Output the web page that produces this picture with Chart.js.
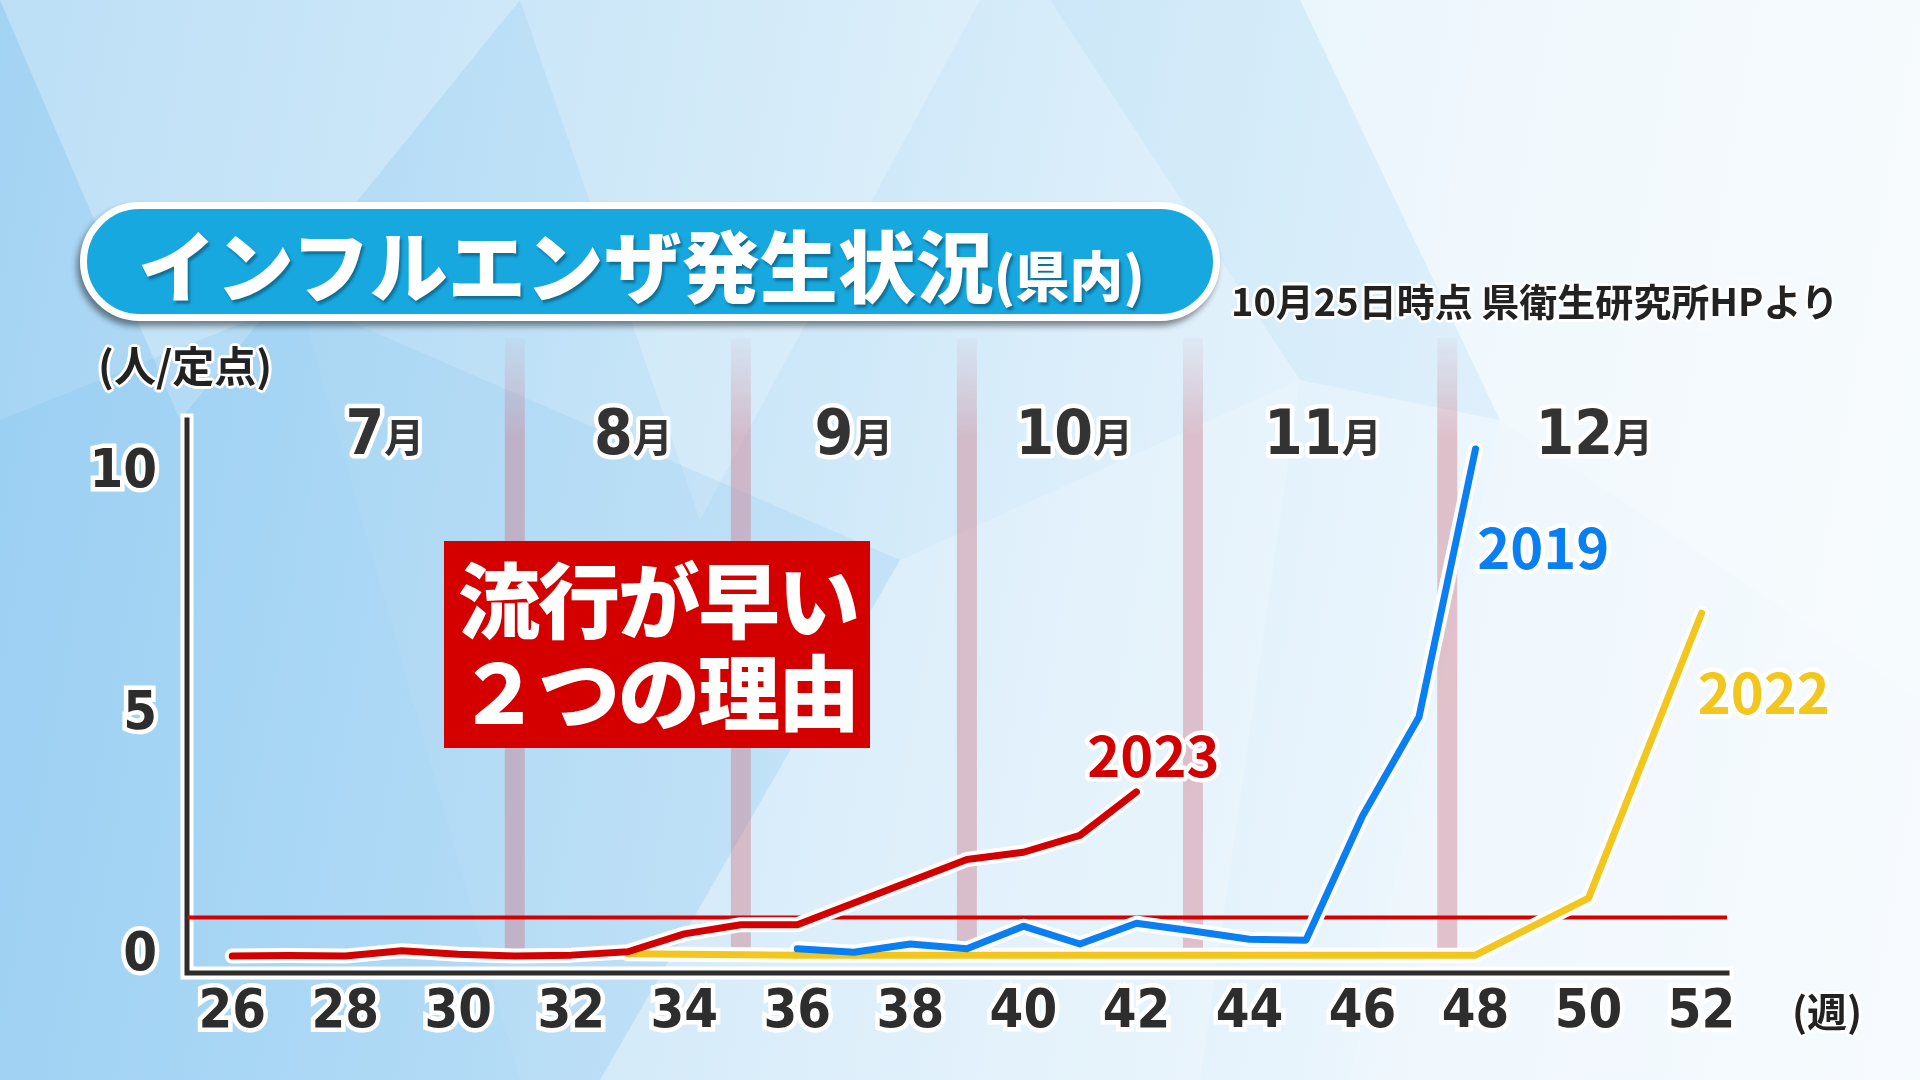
<!DOCTYPE html>
<html lang="ja">
<head>
<meta charset="utf-8">
<title>インフルエンザ発生状況（県内）</title>
<script src="https://cdn.jsdelivr.net/npm/chart.js@4.4.1/dist/chart.umd.min.js"></script>
<style>
  html, body { margin: 0; padding: 0; }
  body {
    width: 1920px; height: 1080px; overflow: hidden; position: relative;
    font-family: "Noto Sans CJK JP", "Noto Sans", sans-serif;
    background: linear-gradient(100deg, #a3d3f3 0%, #bfe1f7 28%, #d9edfa 52%, #ecf6fd 75%, #f5fafe 100%);
  }
  .facet { position: absolute; left: 0; top: 0; width: 1920px; height: 1080px; }
  .f1 { background: rgba(255,255,255,0.28); clip-path: polygon(0 0, 520px 0, 180px 420px); }
  .f2 { background: rgba(120,190,240,0.22); clip-path: polygon(0 420px, 300px 300px, 520px 1080px, 0 1080px); }
  .f3 { background: rgba(255,255,255,0.22); clip-path: polygon(520px 0, 980px 0, 700px 520px); }
  .f4 { background: rgba(130,195,240,0.18); clip-path: polygon(300px 300px, 900px 560px, 600px 1080px, 520px 1080px); }
  .f5 { background: rgba(255,255,255,0.20); clip-path: polygon(900px 560px, 1300px 380px, 1200px 1080px, 600px 1080px); }
  .f6 { background: rgba(255,255,255,0.30); clip-path: polygon(1300px 0, 1920px 0, 1920px 700px, 1500px 420px); }
  .f7 { background: rgba(150,205,242,0.15); clip-path: polygon(1050px 0, 1300px 0, 1500px 420px, 1300px 380px); }
  .f8 { background: rgba(255,255,255,0.18); clip-path: polygon(1500px 420px, 1920px 700px, 1920px 1080px, 1350px 1080px); }

  #chart { position: absolute; left: 0; top: 0; }

  .title-pill {
    position: absolute; left: 80px; top: 202px; width: 1140px; height: 119px;
    box-sizing: border-box; border: 7px solid #fff; border-radius: 60px;
    background: #17a8e0; box-shadow: -3px 5px 6px rgba(0,0,0,0.45);
  }
  .title-text {
    position: absolute; left: 138px; top: 218px; height: 90px; line-height: 90px;
    color: #fff; font-weight: 900; font-size: 78px; white-space: nowrap;
    text-shadow: 2px 3px 3px rgba(0,0,0,0.35);
  }
  .title-text small { font-size: 54px; font-weight: 900; }

  .halo {
    color: #222; font-weight: 700; white-space: nowrap; position: absolute;
    text-shadow: 3px 0 0 #fff, -3px 0 0 #fff, 0 3px 0 #fff, 0 -3px 0 #fff,
      2px 2px 0 #fff, -2px -2px 0 #fff, 2px -2px 0 #fff, -2px 2px 0 #fff;
  }
  .source { left: 1231px; top: 278px; font-size: 38px; line-height: 44px; }
  .unit-y { left: 98px; top: 340px; font-size: 42px; line-height: 48px; }
  .unit-x { left: 1792px; top: 986px; font-size: 40px; line-height: 48px; }

  .callout {
    position: absolute; left: 444px; top: 541px; width: 426px; height: 207px;
    background: #d40000; color: #fff; font-weight: 900; font-size: 82px;
    line-height: 92px; letter-spacing: -2px; box-sizing: border-box;
    padding: 10px 0 0 14px; white-space: nowrap;
  }
</style>
</head>
<body>
<div class="facet f1"></div><div class="facet f2"></div><div class="facet f3"></div><div class="facet f4"></div>
<div class="facet f5"></div><div class="facet f6"></div><div class="facet f7"></div><div class="facet f8"></div>

<canvas id="chart" width="1920" height="1080"></canvas>

<div class="title-pill"></div>
<div class="title-text">インフルエンザ発生状況<small>(県内)</small></div>
<div class="halo source">10月25日時点 県衛生研究所HPより</div>
<div class="halo unit-y">(人/定点)</div>
<div class="halo unit-x">(週)</div>
<div class="callout">流行が早い<br>２つの理由</div>

<script>
// --- data (人/定点, by week number) ---
var weeks2023 = [26, 27, 28, 29, 30, 31, 32, 33, 34, 35, 36, 37, 38, 39, 40, 41, 42];
var values2023 = [0.0, 0.01, 0.0, 0.11, 0.04, 0.0, 0.02, 0.09, 0.46, 0.65, 0.65, 1.1, 1.55, 2.0, 2.15, 2.5, 3.4];

var weeks2019 = [36, 37, 38, 39, 40, 41, 42, 43, 44, 45, 46, 47, 48];
var values2019 = [0.15, 0.08, 0.25, 0.15, 0.62, 0.25, 0.68, 0.52, 0.35, 0.33, 2.9, 4.95, 10.5];

var weeks2022 = [33, 34, 35, 36, 37, 38, 39, 40, 41, 42, 43, 44, 45, 46, 47, 48, 50, 52];
var values2022 = [0.05, 0.04, 0.03, 0.02, 0.02, 0.02, 0.02, 0.02, 0.02, 0.02, 0.02, 0.02, 0.02, 0.02, 0.02, 0.02, 1.2, 7.1];

var thresholdValue = 0.8;

var weekTicks = [26, 28, 30, 32, 34, 36, 38, 40, 42, 44, 46, 48, 50, 52];
var valueTicks = [0, 5, 10];

var monthNumbers = [7, 8, 9, 10, 11, 12];
var monthCenterWeeks = [28.7, 33.1, 37.0, 40.9, 45.3, 50.1];
var monthBoundaryWeeks = [31, 35, 39, 43, 47.5];

var seriesNames = ['2023', '2019', '2022'];
var seriesColors = ['#d20000', '#0a7ff2', '#f2c61c'];
// where each year label sits, in (week, value)
var seriesLabelWeeks = [42.3, 49.2, 53.1];
var seriesLabelValues = [4.15, 8.45, 5.45];

var NARROW = '"Liberation Sans Narrow", "DejaVu Sans Condensed", "Noto Sans CJK JP", sans-serif';
var JP = '"Noto Sans CJK JP", "Noto Sans", sans-serif';

function toPoints(weeks, values) {
  return weeks.map(function (w, i) { return { x: w, y: values[i] }; });
}

function lineSet(weeks, values, color, width, order) {
  return {
    data: toPoints(weeks, values),
    borderColor: color,
    borderWidth: width,
    pointRadius: 0,
    tension: 0,
    fill: false,
    borderCapStyle: 'round',
    borderJoinStyle: 'round',
    order: order
  };
}

// month bands, threshold line and axes go under the lines
var backdropPlugin = {
  id: 'backdrop',
  beforeDatasetsDraw: function (chart) {
    var ctx = chart.ctx;
    var area = chart.chartArea;
    var xs = chart.scales.x;
    var ys = chart.scales.y;
    var zeroY = ys.getPixelForValue(0);

    monthBoundaryWeeks.forEach(function (w) {
      var px = xs.getPixelForValue(w);
      var top = area.top - 82;
      var g = ctx.createLinearGradient(0, top, 0, top + 100);
      g.addColorStop(0, 'rgba(205,120,135,0.05)');
      g.addColorStop(1, 'rgba(205,120,135,0.42)');
      ctx.save();
      ctx.fillStyle = g;
      ctx.fillRect(px - 10, top, 20, zeroY - 4 - top);
      ctx.restore();
    });

    // axes (white halo + dark line)
    var bottom = area.bottom;
    [['#ffffff', 13], ['#2d2d2d', 5]].forEach(function (s) {
      ctx.save();
      ctx.strokeStyle = s[0];
      ctx.lineWidth = s[1];
      ctx.lineCap = 'square';
      ctx.beginPath();
      ctx.moveTo(area.left, area.top);
      ctx.lineTo(area.left, bottom);
      ctx.lineTo(area.right, bottom);
      ctx.stroke();
      ctx.restore();
    });

    var ty = ys.getPixelForValue(thresholdValue);
    ctx.save();
    ctx.strokeStyle = '#d40000';
    ctx.lineWidth = 4;
    ctx.beginPath();
    ctx.moveTo(area.left, ty);
    ctx.lineTo(area.right, ty);
    ctx.stroke();
    ctx.restore();
  }
};

function haloText(ctx, text, x, y, color, haloWidth) {
  ctx.lineJoin = 'round';
  ctx.strokeStyle = '#fff';
  ctx.lineWidth = haloWidth;
  ctx.strokeText(text, x, y);
  ctx.fillStyle = color;
  ctx.fillText(text, x, y);
}

// month headings and year labels
var labelPlugin = {
  id: 'labels',
  afterDatasetsDraw: function (chart) {
    var ctx = chart.ctx;
    var area = chart.chartArea;
    var xs = chart.scales.x;
    var ys = chart.scales.y;

    ctx.save();
    ctx.textBaseline = 'alphabetic';
    ctx.textAlign = 'left';
    var base = area.top + 34;
    monthNumbers.forEach(function (m, i) {
      var num = String(m);
      ctx.font = 'bold 62px ' + NARROW;
      var wNum = ctx.measureText(num).width;
      ctx.font = 'bold 40px ' + JP;
      var wSuf = ctx.measureText('月').width;
      var left = xs.getPixelForValue(monthCenterWeeks[i]) - (wNum + wSuf) / 2;
      ctx.font = 'bold 62px ' + NARROW;
      haloText(ctx, num, left, base, '#333', 9);
      ctx.font = 'bold 40px ' + JP;
      haloText(ctx, '月', left + wNum, base - 2, '#333', 8);
    });
    ctx.restore();

    ctx.save();
    ctx.textAlign = 'center';
    ctx.textBaseline = 'middle';
    ctx.font = 'bold 56px ' + JP;
    seriesNames.forEach(function (name, i) {
      haloText(ctx, name, xs.getPixelForValue(seriesLabelWeeks[i]),
        ys.getPixelForValue(seriesLabelValues[i]), seriesColors[i], 9);
    });
    ctx.restore();
  }
};

var haloW = 15;
var lineW = 7;

new Chart(document.getElementById('chart').getContext('2d'), {
  type: 'line',
  data: {
    datasets: [
      lineSet(weeks2022, values2022, '#ffffff', haloW, 12),
      lineSet(weeks2019, values2019, '#ffffff', haloW, 11),
      lineSet(weeks2023, values2023, '#ffffff', haloW, 10),
      lineSet(weeks2022, values2022, seriesColors[2], lineW, 3),
      lineSet(weeks2019, values2019, seriesColors[1], lineW, 2),
      lineSet(weeks2023, values2023, seriesColors[0], lineW, 1)
    ]
  },
  options: {
    responsive: false,
    animation: false,
    devicePixelRatio: 1,
    layout: { padding: { top: 420, right: 193, left: 0, bottom: 0 } },
    plugins: {
      legend: { display: false },
      tooltip: { enabled: false }
    },
    scales: {
      x: {
        type: 'linear',
        min: 25.2,
        max: 52.45,
        grid: { display: false, drawTicks: false },
        border: { display: false },
        afterBuildTicks: function (scale) {
          scale.ticks = weekTicks.map(function (v) { return { value: v }; });
        },
        afterFit: function (scale) { scale.height = 107; },
        ticks: {
          autoSkip: false,
          maxRotation: 0,
          padding: 8,
          color: '#2d2d2d',
          font: { family: NARROW, size: 54, weight: 'bold' },
          textStrokeColor: '#ffffff',
          textStrokeWidth: 9,
          callback: function (v) { return String(v); }
        }
      },
      y: {
        min: -0.35,
        max: 11.1,
        grid: { display: false, drawTicks: false },
        border: { display: false },
        afterBuildTicks: function (scale) {
          scale.ticks = valueTicks.map(function (v) { return { value: v }; });
        },
        afterFit: function (scale) { scale.width = 187; },
        ticks: {
          padding: 30,
          color: '#2d2d2d',
          font: { family: NARROW, size: 54, weight: 'bold' },
          textStrokeColor: '#ffffff',
          textStrokeWidth: 9,
          callback: function (v) { return String(v); }
        }
      }
    }
  },
  plugins: [backdropPlugin, labelPlugin]
});
</script>
</body>
</html>
